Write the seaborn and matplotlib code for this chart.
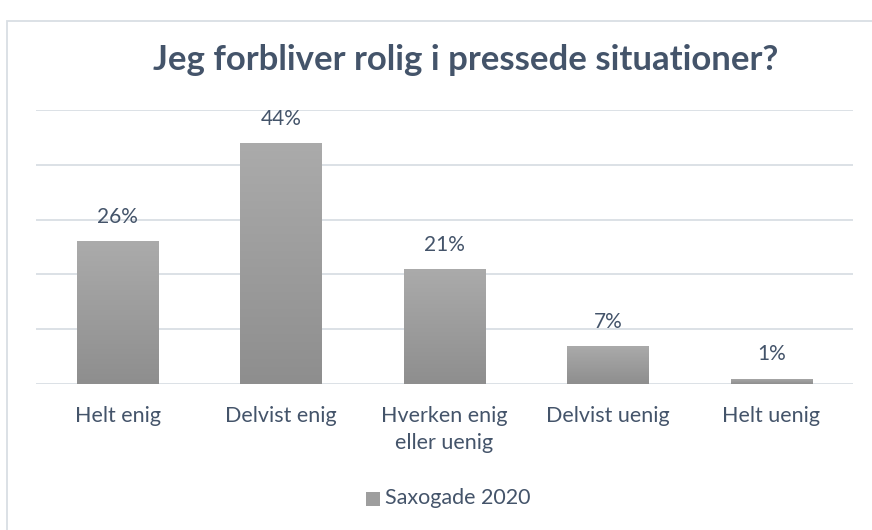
import numpy as np
import pandas as pd
import matplotlib.pyplot as plt
import seaborn as sns
from matplotlib.patches import Rectangle

# data
categories = ['Helt enig', 'Delvist enig', 'Hverken enig\neller uenig', 'Delvist uenig', 'Helt uenig']
values = [26, 44, 21, 7, 1]
series_name = 'Saxogade 2020'

df = pd.DataFrame({'kategori': categories, 'andel': values})

sns.set_style('white')
plt.rcParams['font.family'] = ['Lato', 'DejaVu Sans']
text_col = '#44546A'
grid_col = '#D9DEE4'

fig = plt.figure(figsize=[8.72, 5.30], dpi=100)
ax = fig.add_axes([0.0413, 0.2755, 0.937, 0.517])

sns.barplot(data=df, x='kategori', y='andel', color='#9E9E9E', width=0.5, ax=ax)

# gradient fill inside each bar (lighter on top)
grad = np.linspace(0, 1, 256).reshape(-1, 1)
cmap = sns.blend_palette(['#ABABAB', '#8E8E8E'], as_cmap=True)
for bar in ax.patches:
    x0, y0 = bar.get_x(), bar.get_y()
    w, h = bar.get_width(), bar.get_height()
    im = ax.imshow(grad, extent=[x0, x0 + w, y0, y0 + h], cmap=cmap, aspect='auto', zorder=3)
    im.set_clip_path(bar)
    bar.set_edgecolor('none')

ax.set_ylim(0, 50)
ax.set_xlim(-0.5, len(categories) - 0.5)
ax.set_yticks(np.arange(0, 51, 10))
ax.yaxis.grid(True, color=grid_col, linewidth=1.3)
ax.set_axisbelow(True)
ax.set_yticklabels([])
ax.tick_params(axis='y', length=0)
ax.tick_params(axis='x', length=0, pad=16, labelsize=15.5, labelcolor=text_col)
for lbl in ax.get_xticklabels():
    lbl.set_linespacing(1.4)
ax.set_xlabel('')
ax.set_ylabel('')
for s in ax.spines.values():
    s.set_visible(False)

for i, v in enumerate(values):
    ax.annotate(f'{v}%', (i, v), xytext=(0, 13), textcoords='offset points',
                ha='center', va='baseline', fontsize=15, color=text_col)

fig.text(0.534, 0.868, 'Jeg forbliver rolig i pressede situationer?', ha='center', va='baseline',
         fontsize=25, fontweight='bold', color=text_col)

# legend
fig.patches.append(Rectangle((366 / 872, 1 - 506 / 530), 14 / 872, 14 / 530, transform=fig.transFigure,
                             facecolor='#9E9E9E', edgecolor='none'))
fig.text(385 / 872, 1 - 498 / 530, series_name, ha='left', va='center', fontsize=15.5, color=text_col)

# chart frame
fig.patches.append(Rectangle((0.008, -0.02), 1.1, 1 - 0.02 + 0.001, transform=fig.transFigure,
                             facecolor='none', edgecolor=grid_col, linewidth=1.3))

fig.savefig('out.png', dpi=100)
